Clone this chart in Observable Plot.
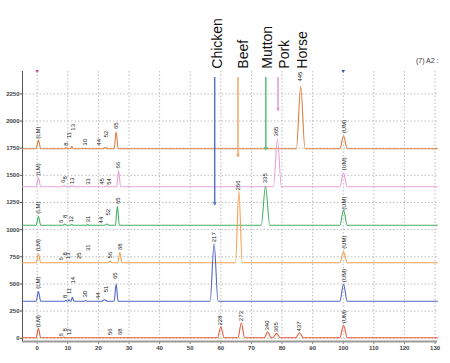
<!DOCTYPE html>
<html><head><meta charset="utf-8">
<script src="https://cdn.jsdelivr.net/npm/d3@7"></script>
<script src="https://cdn.jsdelivr.net/npm/@observablehq/plot@0.6"></script>
<style>body{margin:0;background:#fff}svg{display:block}</style>
</head><body><div id="chart"></div>
<script>
// ---- data ----
const xDomain = [-4.8, 130.8];
const yDomain = [-30, 2456];
const xTicks = [0,10,20,30,40,50,60,70,80,90,100,110,120,130];
const yTicks = [0,250,500,750,1000,1250,1500,1750,2000,2250];

const traceNames = ["Horse","Pork","Mutton","Beef","Chicken","Sample"];
const traceColors = ["#dd7f3e","#e9a2d8","#45b065","#f7a052","#5466c2","#e85c3c"];
const baselines = [1745, 1395, 1040, 695, 340, 5];

// peaks: [position, height above baseline, base width]
const horsePeaks = [[0.4,80,1.5],[9.5,10,1.0],[11.3,20,1.0],[15.8,5,1.0],[22.3,10,1.6],[25.8,155,1.3],[86.1,575,2.8],[100.1,120,2.4]];
const porkPeaks = [[0.4,85,1.5],[8.8,10,1.2],[11.5,8,1.2],[22.5,8,1.6],[26.6,150,1.3],[78.5,440,2.6],[100.1,125,2.4]];
const muttonPeaks = [[0.4,80,1.5],[9.0,12,1.2],[11.3,8,1.0],[16.5,6,1.0],[22.8,12,1.6],[26.2,175,1.3],[74.6,360,2.8],[100.1,140,2.4]];
const beefPeaks = [[0.4,80,1.5],[9.5,8,1.2],[11.0,8,1.0],[23.8,15,1.4],[27.0,95,1.4],[65.9,660,2.2],[100.1,100,2.4]];
const chickenPeaks = [[0.4,90,1.5],[9.4,10,1.0],[10.4,15,0.8],[11.5,38,1.0],[15.8,8,1.0],[22.0,15,2.0],[25.8,160,1.3],[57.8,530,2.6],[100.1,160,2.4]];
const samplePeaks = [[0.4,85,1.5],[8.7,5,1.0],[60.0,100,2.2],[66.7,135,2.2],[75.3,55,2.2],[78.2,40,2.4],[85.7,45,2.4],[100.1,115,2.4]];

// fragment labels: [text, position, count at label start]
const horseLabels = [["(LM)",0.3,1836],["8",9.6,1772],["11",10.5,1843],["13",11.7,1911],["30",15.8,1773],["44",20.3,1773],["52",22.6,1850],["65",25.9,1926],["445",86.0,2363],["(UM)",100.2,1888]];
const porkLabels = [["(LM)",0.3,1498],["6",8.3,1429],["8",9.2,1461],["13",11.4,1420],["31",16.5,1413],["45",21.1,1413],["54",23.4,1413],["66",26.4,1563],["365",78.1,1857],["(UM)",100.2,1544]];
const muttonLabels = [["(LM)",0.3,1146],["6",7.9,1061],["8",9.2,1107],["12",11.1,1066],["31",16.5,1066],["44",21.0,1057],["52",23.2,1130],["65",26.3,1236],["335",74.3,1427],["(UM)",100.2,1182]];
const beefLabels = [["(LM)",0.2,801],["6",7.9,715],["8",9.0,761],["13",10.1,729],["25",13.6,729],["31",16.5,803],["56",23.7,734],["68",27.0,812],["266",65.8,1360],["(UM)",100.2,823]];
const chickenLabels = [["(LM)",0.3,455],["8",9.2,370],["11",10.3,407],["14",11.7,504],["30",15.8,375],["44",19.9,361],["51",22.5,423],["65",25.6,545],["217",57.9,884],["(UM)",100.2,516]];
const sampleLabels = [["(LM)",0.3,101],["6",7.9,16],["8",9.0,62],["12",10.3,30],["56",23.7,30],["68",27.0,30],["228",59.8,117],["273",66.7,157],["340",75.1,71],["365",78.1,55],["437",85.6,62],["(UM)",100.2,138]];

// species annotations
const speciesNames = ["Chicken","Beef","Mutton","Pork","Horse"];
const speciesX = [59.0,67.5,75.4,80.8,86.8];
const speciesY = 2482;
const arrowX = [58.0,65.6,74.7,78.7];
const arrowTop = 2401;
const arrowTip = [1222,1664,1729,2090];
const arrowColors = ["#5b73c8","#f7a866","#58be7e","#e39ad3"];
const markerX = [0, 100];
const markerColors = ["#d84f9e","#3f55b5"];
const cornerText = "(7) A2 :";

// ---- build ----
const allPeaks = [horsePeaks, porkPeaks, muttonPeaks, beefPeaks, chickenPeaks, samplePeaks];
const allLabels = [horseLabels, porkLabels, muttonLabels, beefLabels, chickenLabels, sampleLabels];

function buildPoints(base, peaks) {
  const pts = [[xDomain[0], base], [xDomain[1], base]];
  for (const [x, h, w] of peaks) pts.push([x - w / 2, base], [x, base + h], [x + w / 2, base]);
  return pts.sort((a, b) => a[0] - b[0]);
}

const tipDown = {draw(ctx, size) { const r = Math.sqrt(size / Math.PI); ctx.moveTo(-r * 1.2, -r * 2.2); ctx.lineTo(r * 1.2, -r * 2.2); ctx.lineTo(0, 0); ctx.closePath(); }};
const triDown = {draw(ctx, size) { const r = Math.sqrt(size / Math.PI); ctx.moveTo(-r * 1.2, -r); ctx.lineTo(r * 1.2, -r); ctx.lineTo(0, r); ctx.closePath(); }};

const marks = [
  Plot.gridX(xTicks, {stroke: "#bdbdbd", strokeOpacity: 1, strokeDasharray: "1.5,2"}),
  Plot.gridY(yTicks, {stroke: "#bdbdbd", strokeOpacity: 1, strokeDasharray: "1.5,2"}),
  Plot.axisY(yTicks, {tickSize: 2, tickPadding: 1, fontSize: 6, fontWeight: "bold", tickFormat: "d", label: null, fill: "#444", stroke: "#555"}),
  Plot.axisX(xTicks, {tickSize: 3, tickPadding: 1, fontSize: 6, fontWeight: "bold", tickFormat: "d", label: null, fill: "#444", stroke: "#888"}),
  Plot.ruleY([yDomain[0]], {stroke: "#9a9a9a", strokeWidth: 2}),
  Plot.ruleX([xDomain[0]], {stroke: "#555", strokeWidth: 1})
];

allPeaks.forEach((peaks, i) => {
  marks.push(Plot.line(buildPoints(baselines[i], peaks), {x: d => d[0], y: d => d[1], stroke: traceColors[i], strokeWidth: 1.1, curve: "monotone-x"}));
});
allLabels.forEach((labels) => {
  marks.push(Plot.text(labels, {x: d => d[1], y: d => d[2], text: d => d[0], rotate: -90, textAnchor: "start", fontSize: 6, fill: "#222"}));
});

arrowX.forEach((x, i) => {
  marks.push(Plot.ruleX([x], {y1: arrowTop, y2: arrowTip[i], stroke: arrowColors[i], strokeWidth: 1.5}));
  marks.push(Plot.dot([x], {x: d => d, y: arrowTip[i], symbol: tipDown, r: 1.6, fill: arrowColors[i], stroke: "none"}));
});
markerX.forEach((x, i) => {
  marks.push(Plot.dot([x], {x: d => d, frameAnchor: "top", symbol: triDown, r: 1.6, fill: markerColors[i], stroke: "none"}));
});
marks.push(Plot.text(speciesNames, {x: (d, i) => speciesX[i], y: speciesY, text: d => d, rotate: -90, textAnchor: "start", fontSize: 14, fill: "#111"}));
marks.push(Plot.text([cornerText], {frameAnchor: "top-right", text: d => d, dy: -13, dx: 1, textAnchor: "end", fontSize: 7, fill: "#333"}));

const chart = Plot.plot({
  width: 450, height: 363,
  marginLeft: 22, marginRight: 13, marginTop: 71, marginBottom: 22,
  x: {domain: xDomain},
  y: {domain: yDomain},
  style: {fontFamily: "'Liberation Sans', Arial, sans-serif", background: "#fff"},
  marks
});
document.getElementById("chart").appendChild(chart);
</script>
</body></html>
